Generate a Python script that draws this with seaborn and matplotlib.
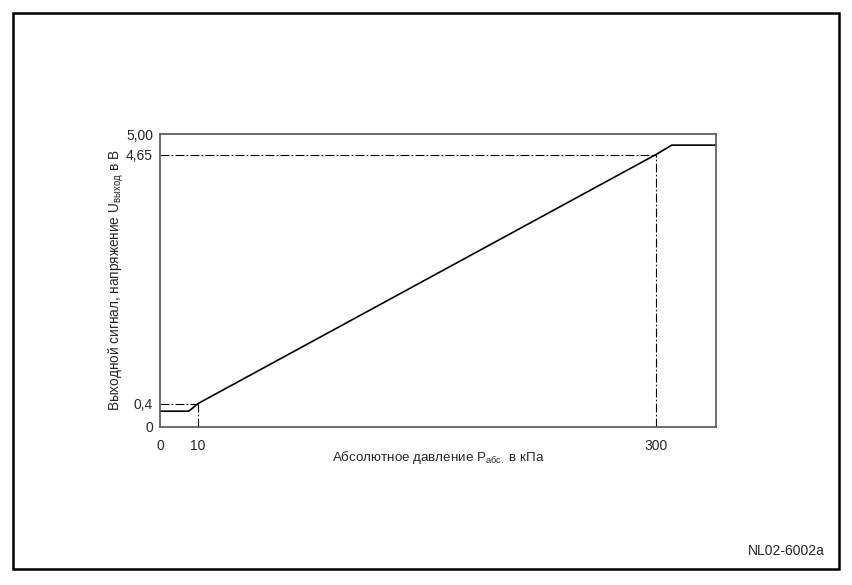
"""Характеристика датчика абсолютного давления."""

import numpy as np
import matplotlib
matplotlib.use('Agg')
import matplotlib.pyplot as plt
from matplotlib.patches import Rectangle
import seaborn as sns
import pandas as pd

sns.set_style('white')
plt.rcParams['font.family'] = ['Liberation Sans', 'DejaVu Sans']
plt.rcParams['mathtext.fontset'] = 'custom'
plt.rcParams['mathtext.rm'] = 'Liberation Sans'
plt.rcParams['mathtext.it'] = 'Liberation Sans'

# данные характеристики (кПа, В)
pressure = [0, 7.6, 10, 300, 310, 338]
voltage = [0.27, 0.27, 0.4, 4.65, 4.81, 4.81]

# опорные точки
ref_p = [10, 300]
ref_u = [0.4, 4.65]

x_ticks = [0, 10, 300]
x_ticklabels = ['0', '10', '300']
y_ticks = [0, 0.4, 4.65, 5.0]
y_ticklabels = ['0', '0,4', '4,65', '5,00']

# схематичная шкала по оси X (не в масштабе)
xp_data = [0, 10, 300, 338]
xp_pos = [0, 38, 496, 556]


def fwd(x):
    return np.interp(x, xp_data, xp_pos)


def inv(x):
    return np.interp(x, xp_pos, xp_data)


df = pd.DataFrame({'p': pressure, 'u': voltage})

fig = plt.figure(figsize=(8.52, 5.85), dpi=100)
ax = fig.add_axes([160 / 852, 158 / 585, 556 / 852, 293 / 585])
ax.set_xscale('function', functions=(fwd, inv))

sns.lineplot(data=df, x='p', y='u', ax=ax, color='black', linewidth=1.2,
             sort=False, estimator=None)

for p, u in zip(ref_p, ref_u):
    ax.plot([0, p], [u, u], color='black', linewidth=0.8, linestyle='-.',
            dashes=(8, 2, 1.5, 2))
    ax.plot([p, p], [0, u], color='black', linewidth=0.8, linestyle='-.',
            dashes=(8, 2, 1.5, 2))

ax.set_xlim(0, 338)
ax.set_ylim(0, 5.0)
ax.set_xticks(x_ticks)
ax.set_xticklabels(x_ticklabels)
ax.set_yticks(y_ticks)
ax.set_yticklabels(y_ticklabels)
ax.tick_params(length=0, labelsize=10)
ax.tick_params(axis='x', pad=9)
ax.tick_params(axis='y', pad=5)

for s in ax.spines.values():
    s.set_color('#555555')
    s.set_linewidth(1.2)

ax.set_xlabel('Абсолютное давление P$_{\\mathregular{абс.}}$ в кПа', fontsize=9.6, labelpad=-3)
ax.set_ylabel('Выходной сигнал, напряжение U$_{\\mathregular{выход}}$ в В', fontsize=9.8, labelpad=0)

# рамка
fig.patches.append(Rectangle((13 / 852, 16 / 585), 826 / 852, 556 / 585,
                             transform=fig.transFigure, fill=False,
                             edgecolor='black', linewidth=1.8))
fig.text(825 / 852, 1 - 551 / 585, 'NL02-6002a', ha='right', va='center',
         fontsize=10, transform=fig.transFigure)

plt.savefig('out.png', dpi=100)
plt.close()
